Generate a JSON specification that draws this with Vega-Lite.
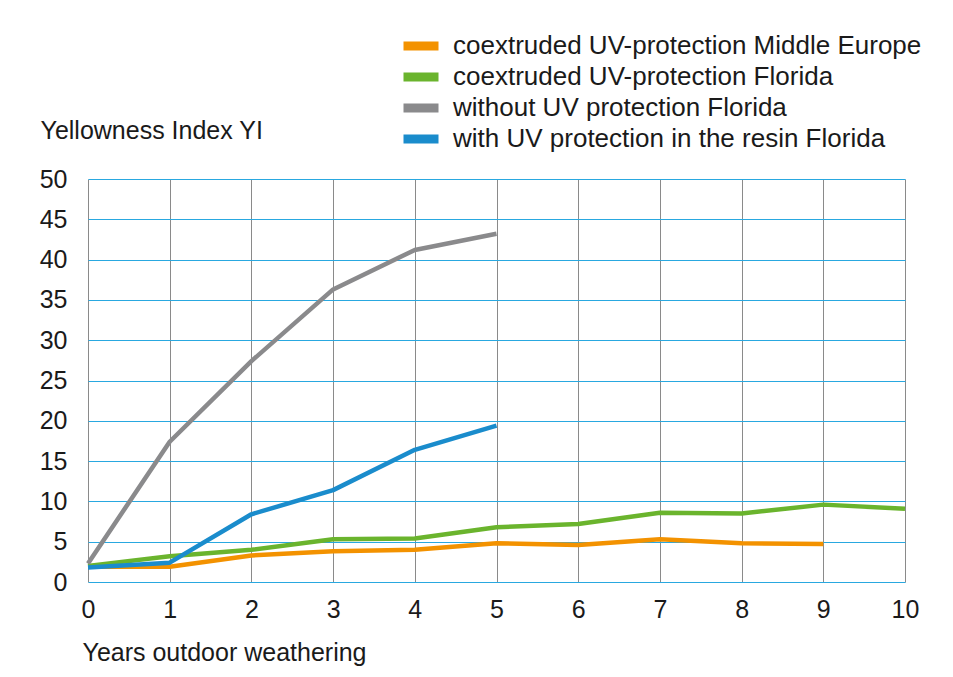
{
  "$schema": "https://vega.github.io/schema/vega-lite/v6.json",
  "width": 817,
  "height": 403,
  "autosize": "none",
  "padding": {"left": 88, "top": 179, "right": 48, "bottom": 95},
  "background": "white",
  "config": {
    "font": "Liberation Sans",
    "view": {"stroke": null}
  },
  "data": {
    "values": [
      {"s": "coextruded UV-protection Middle Europe", "year": 0, "yi": 1.9},
      {"s": "coextruded UV-protection Middle Europe", "year": 1, "yi": 1.9},
      {"s": "coextruded UV-protection Middle Europe", "year": 2, "yi": 3.3},
      {"s": "coextruded UV-protection Middle Europe", "year": 3, "yi": 3.8},
      {"s": "coextruded UV-protection Middle Europe", "year": 4, "yi": 4.0},
      {"s": "coextruded UV-protection Middle Europe", "year": 5, "yi": 4.8},
      {"s": "coextruded UV-protection Middle Europe", "year": 6, "yi": 4.6},
      {"s": "coextruded UV-protection Middle Europe", "year": 7, "yi": 5.3},
      {"s": "coextruded UV-protection Middle Europe", "year": 8, "yi": 4.8},
      {"s": "coextruded UV-protection Middle Europe", "year": 9, "yi": 4.7},
      {"s": "coextruded UV-protection Florida", "year": 0, "yi": 2.0},
      {"s": "coextruded UV-protection Florida", "year": 1, "yi": 3.2},
      {"s": "coextruded UV-protection Florida", "year": 2, "yi": 4.0},
      {"s": "coextruded UV-protection Florida", "year": 3, "yi": 5.3},
      {"s": "coextruded UV-protection Florida", "year": 4, "yi": 5.4},
      {"s": "coextruded UV-protection Florida", "year": 5, "yi": 6.8},
      {"s": "coextruded UV-protection Florida", "year": 6, "yi": 7.2},
      {"s": "coextruded UV-protection Florida", "year": 7, "yi": 8.6},
      {"s": "coextruded UV-protection Florida", "year": 8, "yi": 8.5},
      {"s": "coextruded UV-protection Florida", "year": 9, "yi": 9.6},
      {"s": "coextruded UV-protection Florida", "year": 10, "yi": 9.1},
      {"s": "without UV protection Florida", "year": 0, "yi": 2.3},
      {"s": "without UV protection Florida", "year": 1, "yi": 17.4},
      {"s": "without UV protection Florida", "year": 2, "yi": 27.4},
      {"s": "without UV protection Florida", "year": 3, "yi": 36.3},
      {"s": "without UV protection Florida", "year": 4, "yi": 41.2},
      {"s": "without UV protection Florida", "year": 5, "yi": 43.2},
      {"s": "with UV protection in the resin Florida", "year": 0, "yi": 1.8},
      {"s": "with UV protection in the resin Florida", "year": 1, "yi": 2.4},
      {"s": "with UV protection in the resin Florida", "year": 2, "yi": 8.4},
      {"s": "with UV protection in the resin Florida", "year": 3, "yi": 11.4},
      {"s": "with UV protection in the resin Florida", "year": 4, "yi": 16.4},
      {"s": "with UV protection in the resin Florida", "year": 5, "yi": 19.4}
    ]
  },
  "mark": {"type": "line", "strokeWidth": 4.5, "strokeJoin": "round"},
  "encoding": {
    "x": {
      "field": "year",
      "type": "quantitative",
      "scale": {"domain": [0, 10], "nice": false},
      "axis": {
        "values": [0, 1, 2, 3, 4, 5, 6, 7, 8, 9, 10],
        "format": "d",
        "domain": false,
        "ticks": false,
        "grid": true,
        "gridColor": "#8a8a8a",
        "gridWidth": 1,
        "gridOpacity": 1,
        "labelFontSize": 25,
        "labelColor": "#1a1a1a",
        "labelPadding": 15,
        "labelFlush": false,
        "title": "Years outdoor weathering",
        "titleFontSize": 25,
        "titleFontWeight": "normal",
        "titleColor": "#1a1a1a",
        "titleAnchor": "start",
        "titleAlign": "left",
        "titleBaseline": "middle",
        "titleX": -6,
        "titleY": 70
      }
    },
    "y": {
      "field": "yi",
      "type": "quantitative",
      "scale": {"domain": [0, 50], "nice": false},
      "axis": {
        "values": [0, 5, 10, 15, 20, 25, 30, 35, 40, 45, 50],
        "domain": false,
        "ticks": false,
        "grid": true,
        "gridColor": "#29a8e0",
        "gridWidth": 1.2,
        "gridOpacity": 1,
        "labelFontSize": 25,
        "labelColor": "#1a1a1a",
        "labelPadding": 21,
        "labelFlush": false,
        "title": "Yellowness Index YI",
        "titleFontSize": 25,
        "titleFontWeight": "normal",
        "titleColor": "#1a1a1a",
        "titleAngle": 0,
        "titleAlign": "left",
        "titleBaseline": "middle",
        "titleX": -48,
        "titleY": -49
      }
    },
    "color": {
      "field": "s",
      "type": "nominal",
      "sort": [
        "coextruded UV-protection Middle Europe",
        "coextruded UV-protection Florida",
        "without UV protection Florida",
        "with UV protection in the resin Florida"
      ],
      "scale": {
        "domain": [
          "coextruded UV-protection Middle Europe",
          "coextruded UV-protection Florida",
          "without UV protection Florida",
          "with UV protection in the resin Florida"
        ],
        "range": ["#f39200", "#6ab42d", "#8a8a8c", "#1a8ccc"]
      },
      "legend": {
        "title": null,
        "orient": "none",
        "legendX": 320,
        "legendY": -146,
        "symbolType": "M-3.5,0H3.5",
        "symbolStrokeWidth": 9,
        "symbolSize": 100,
        "symbolOpacity": 1,
        "labelFontSize": 26,
        "labelColor": "#1a1a1a",
        "labelOffset": 19,
        "labelLimit": 600,
        "rowPadding": -10
      }
    }
  }
}
